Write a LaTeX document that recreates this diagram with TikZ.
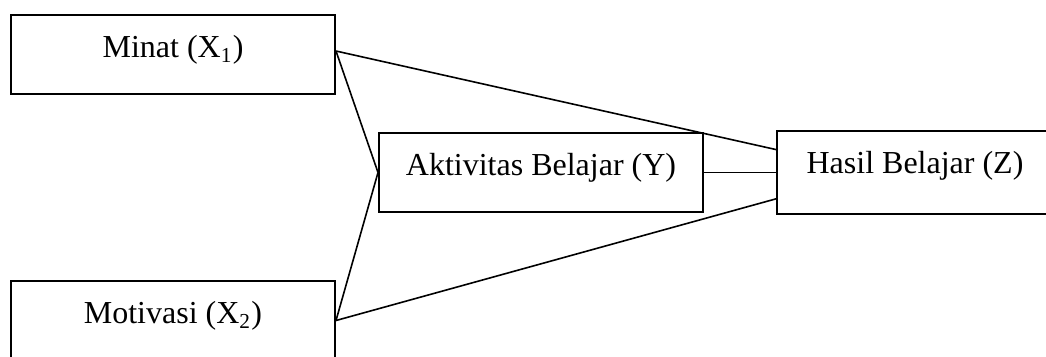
\documentclass[tikz,border=0pt]{standalone}
\usepackage{fontspec}
\setmainfont{Liberation Serif}
\usetikzlibrary{calc}

\begin{document}
\begin{tikzpicture}[x=0.375pt, y=-0.375pt,
    kotak/.style={draw, line width=0.75pt, rectangle, inner sep=0pt,
        minimum width=121.5pt, text height=16.1pt, text depth=13.5pt,
        font=\fontsize{12pt}{14pt}\selectfont},
    garis/.style={line width=0.6pt}]

\useasboundingbox (0,0) rectangle (1046,356);
\clip (0,0) rectangle (1046,356);

% Variabel bebas
\node[kotak] (minat) at (173,54.5) {Minat (X\textsubscript{1})};
\node[kotak] (motivasi) at (173,320.5) {Motivasi (X\textsubscript{2})};

% Variabel antara dan terikat
\node[kotak] (aktivitas) at (541,172.5) {Aktivitas Belajar (Y)};
\node[kotak, minimum width=103.5pt, text depth=15pt] (hasil) at (915,172.5) {Hasil Belajar (Z)};

% Titik pada sisi kotak
\coordinate (m1) at ([yshift=1.3pt]minat.east);
\coordinate (h1) at ($(hasil.north west)!0.23!(hasil.south west)$);
\coordinate (h3) at ($(hasil.north west)!0.81!(hasil.south west)$);

% Garis hubungan
\draw[garis] (m1) -- (aktivitas.west);
\draw[garis] (m1) -- (h1);
\draw[garis] (motivasi.east) -- (aktivitas.west);
\draw[garis] (motivasi.east) -- (h3);
\draw[garis] (aktivitas.east) -- (hasil.west);
\end{tikzpicture}
\end{document}
